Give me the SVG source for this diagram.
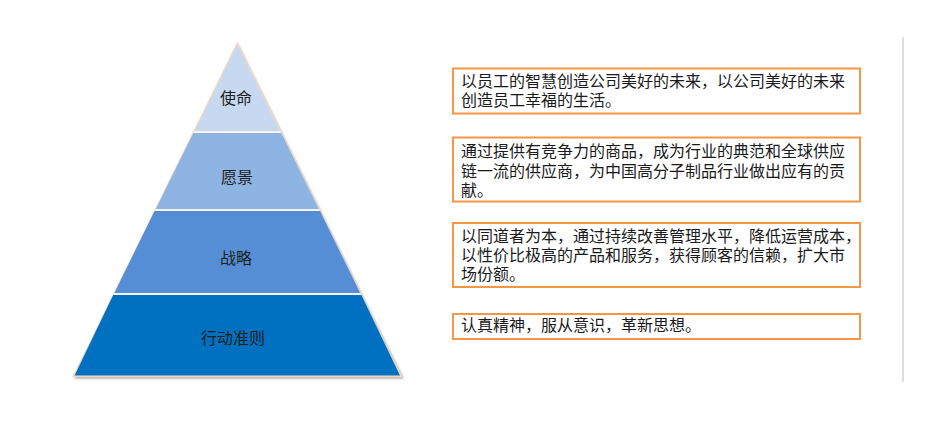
<svg xmlns="http://www.w3.org/2000/svg" width="931" height="429" viewBox="0 0 931 429">
<defs>
<style>
.lbl{font-family:"Liberation Serif","Noto Sans CJK SC",serif;font-size:16px;fill:#1f1f1f;text-anchor:middle}
.txt{font-family:"Liberation Serif","Noto Sans CJK SC",serif;font-size:16px;fill:#1a1a1a}
.box{fill:#ffffff;stroke:#F79646;stroke-width:2}
.sep{stroke:#F7F3EE;stroke-width:2}
</style>
<linearGradient id="topline" x1="0" x2="1" y1="0" y2="0">
<stop offset="0" stop-color="#e6e6e6" stop-opacity="0"/>
<stop offset="0.5" stop-color="#dcdcdc"/>
<stop offset="1" stop-color="#e6e6e6" stop-opacity="0"/>
</linearGradient>
<filter id="sh" x="-10%" y="-10%" width="120%" height="120%">
<feGaussianBlur stdDeviation="0.8"/>
</filter>
</defs>
<rect width="931" height="429" fill="#ffffff"/>
<line x1="100" y1="36.5" x2="305" y2="36.5" stroke="url(#topline)" stroke-width="1.5"/>
<line x1="903" y1="37" x2="903" y2="382" stroke="#D3D3D3" stroke-width="1.5"/>
<g id="pyramid">
<polygon points="238.5,45 74.5,378.5 403.5,378.5" fill="#8a8a8a" filter="url(#sh)" opacity="0.8"/>
<polygon points="237.3,43.3 73.4,376.5 401.2,376.5" fill="#F3E4D6" stroke="#F5D7BD" stroke-width="1.5"/>
</g>
<g id="n1">
<polygon points="237.3,44.5 194.6,131 280,131" fill="#C6D9F0"/>
<text class="lbl" x="236" y="104">使命</text>
</g>
<g id="n2">
<polygon points="193.4,133 281.2,133 318.8,209 155.8,209" fill="#8EB4E3"/>
<text class="lbl" x="237" y="183">愿景</text>
</g>
<g id="n3">
<polygon points="154.6,211 320,211 360.2,293 114.4,293" fill="#558ED5"/>
<text class="lbl" x="236" y="264">战略</text>
</g>
<g id="n4">
<polygon points="113.2,295 361.4,295 400,375.5 74.6,375.5" fill="#0070C0"/>
<text class="lbl" x="233" y="344">行动准则</text>
</g>
<g id="separators">
<line class="sep" x1="194" y1="132" x2="280.6" y2="132"/>
<line class="sep" x1="155.2" y1="210" x2="319.4" y2="210"/>
<line class="sep" x1="113.8" y1="294" x2="360.8" y2="294"/>
</g>
<g id="b1">
<rect class="box" x="453" y="68.5" width="407" height="45"/>
<text class="txt"><tspan x="461" y="87">以员工的智慧创造公司美好的未来，以公司美好的未来</tspan><tspan x="461" y="106">创造员工幸福的生活。</tspan></text>
</g>
<g id="b2">
<rect class="box" x="453" y="137.5" width="407" height="64"/>
<text class="txt"><tspan x="461" y="157">通过提供有竞争力的商品，成为行业的典范和全球供应</tspan><tspan x="461" y="176.5">链一流的供应商，为中国高分子制品行业做出应有的贡</tspan><tspan x="461" y="196">献。</tspan></text>
</g>
<g id="b3">
<rect class="box" x="453" y="223" width="407" height="64"/>
<text class="txt"><tspan x="461" y="242">以同道者为本，通过持续改善管理水平，降低运营成本，</tspan><tspan x="461" y="261">以性价比极高的产品和服务，获得顾客的信赖，扩大市</tspan><tspan x="461" y="280">场份额。</tspan></text>
</g>
<g id="b4">
<rect class="box" x="453" y="314" width="407" height="25"/>
<text class="txt" x="461" y="331">认真精神，服从意识，革新思想。</text>
</g>
</svg>
